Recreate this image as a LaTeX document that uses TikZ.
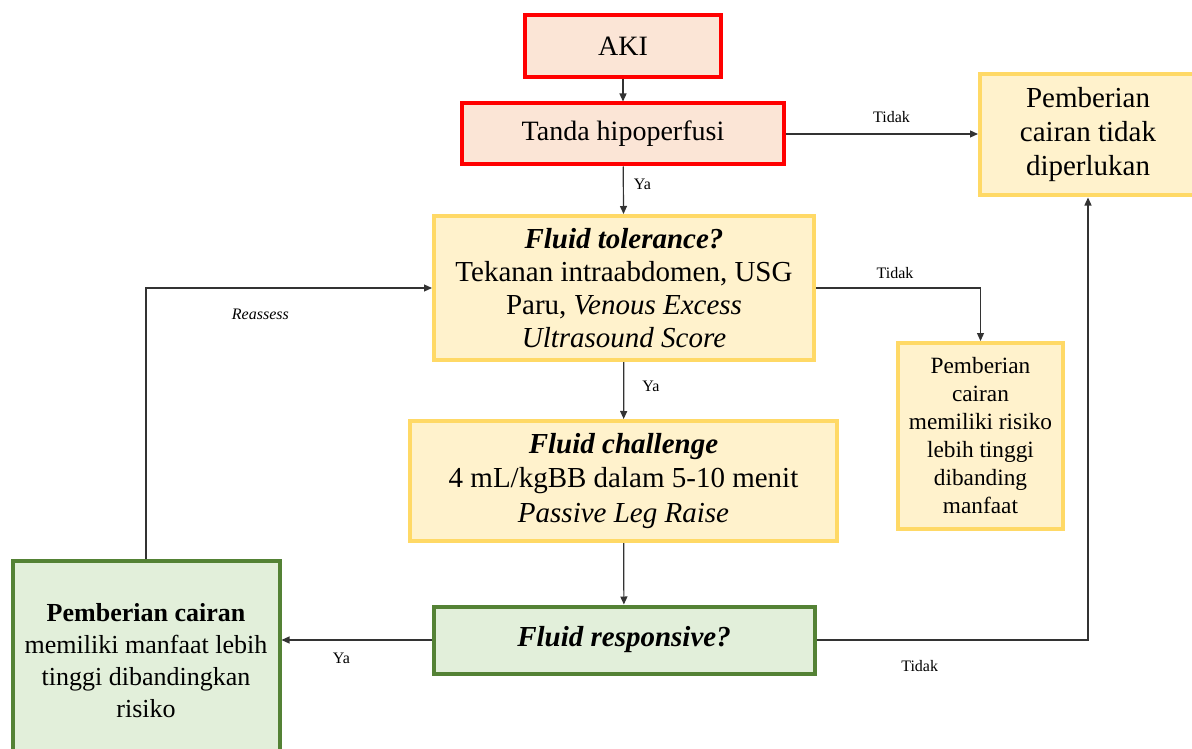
\documentclass[tikz,border=0pt]{standalone}
\usepackage{fontspec}
\setmainfont{Liberation Serif}
\usetikzlibrary{arrows.meta}
\definecolor{redline}{HTML}{FF0000}
\definecolor{peach}{HTML}{FBE5D6}
\definecolor{goldline}{HTML}{FFD966}
\definecolor{cream}{HTML}{FFF2CC}
\definecolor{greenline}{HTML}{548235}
\definecolor{mint}{HTML}{E2EFDA}
\definecolor{wire}{HTML}{333333}

\begin{document}
\begin{tikzpicture}[x=1pt,y=-1pt,
  box/.style={draw, line width=4pt, inner sep=0pt, align=center,
    font=\fontsize{28}{33}\selectfont},
  redbox/.style={box, draw=redline, fill=peach},
  yellowbox/.style={box, draw=goldline, fill=cream},
  greenbox/.style={box, draw=greenline, fill=mint},
  link/.style={draw=wire, line width=1.2pt, -{Triangle[length=8pt,width=7pt]}},
  tag/.style={font=\fontsize{16}{19}\selectfont, inner sep=0pt, text=black}]
\useasboundingbox (0,0) rectangle (1192,749);

% decision chain
\node[redbox, minimum width=196, minimum height=62] (aki) at (623,46) {AKI};
\node[redbox, minimum width=322, minimum height=61] (tanda) at (623,134) {Tanda hipoperfusi};
\node[yellowbox, minimum width=216, minimum height=121,
  font=\fontsize{29}{34}\selectfont] (notneeded) at (1088,135)
  {Pemberian\\cairan tidak\\diperlukan};
\node[yellowbox, minimum width=380, minimum height=144,
  font=\fontsize{29}{33}\selectfont] (tol) at (624,288)
  {\textbf{\textit{Fluid tolerance?}}\\Tekanan intraabdomen, USG\\Paru, \textit{Venous Excess}\\\textit{Ultrasound Score}};
\node[yellowbox, minimum width=165, minimum height=186,
  font=\fontsize{23.3}{28}\selectfont] (risk) at (980.5,436)
  {Pemberian\\cairan\\memiliki risiko\\lebih tinggi\\dibanding\\manfaat};
\node[yellowbox, minimum width=427, minimum height=120,
  font=\fontsize{29}{34.5}\selectfont] (chal) at (623.5,481)
  {\textbf{\textit{Fluid challenge}}\\4 mL/kgBB dalam 5-10 menit\\\textit{Passive Leg Raise}};
\node[greenbox, minimum width=381, minimum height=67,
  font=\fontsize{29}{34}\selectfont] (resp) at (624,640)
  {\textbf{\textit{Fluid responsive?}}};
\node[greenbox, minimum width=267, minimum height=200,
  font=\fontsize{26}{32}\selectfont] (benefit) at (146,661)
  {\textbf{Pemberian cairan}\\memiliki manfaat lebih\\tinggi dibandingkan\\risiko};

% connectors
\draw[link] (aki) -- (tanda);
\draw[link] (tanda) -- node[tag, right=10pt, pos=0.38] {Ya} (tol);
\draw[link] (tanda.east) -- node[tag, above=11pt, pos=0.55] {Tidak} (notneeded.west |- tanda.east);
\draw[link] (tol.east) -| node[tag, above=9pt, pos=0.24] {Tidak} (risk.north);
\draw[link] (tol) -- node[tag, right=18pt, pos=0.42] {Ya} (chal);
\draw[link] (chal) -- (resp);
\draw[link] (resp.west) -- node[tag, below=12pt, pos=0.6] {Ya} (benefit.east |- resp.west);
\draw[link] (resp.east) -| node[tag, below=20pt, pos=0.19] {Tidak} (notneeded.south);
\draw[link] (benefit.north) |- node[tag, below=20pt, pos=0.7] {\textit{Reassess}} (tol.west);
\end{tikzpicture}
\end{document}
